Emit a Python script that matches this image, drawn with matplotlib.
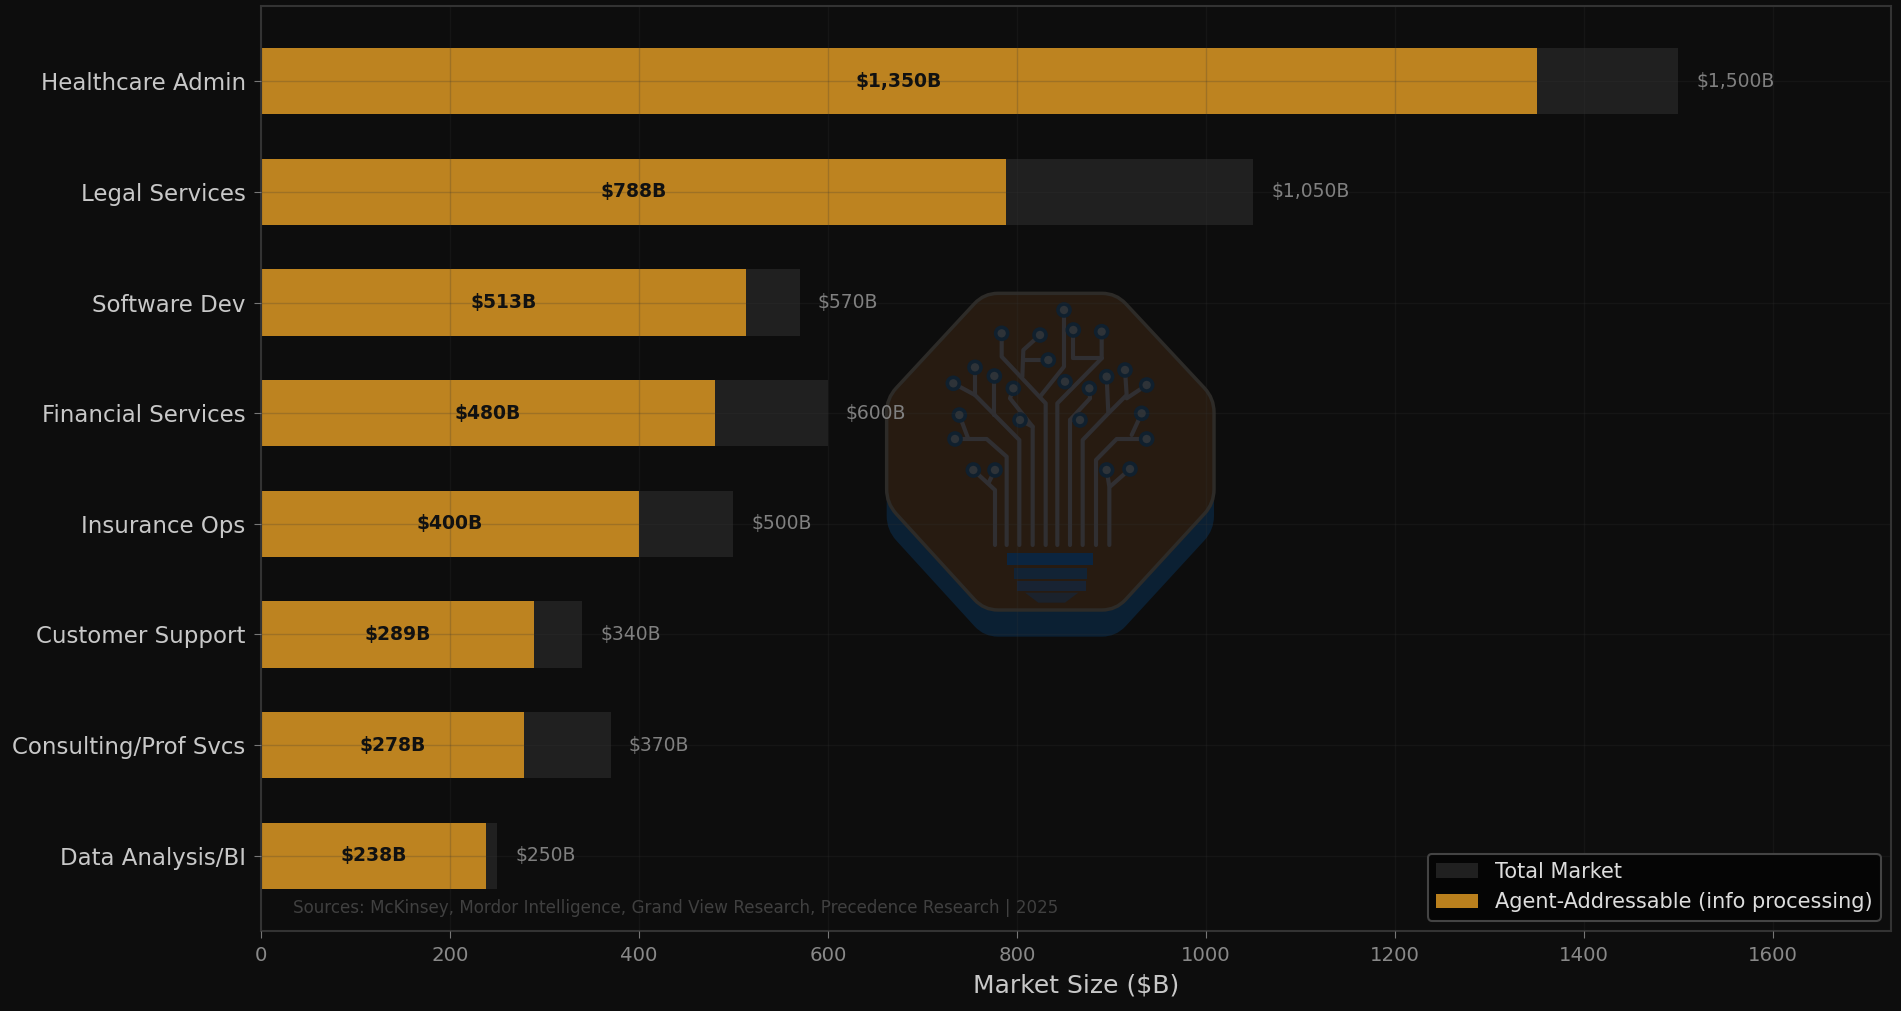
import matplotlib
matplotlib.use("Agg")
import matplotlib.pyplot as plt
from matplotlib.patches import Polygon, Circle, Rectangle, PathPatch
from matplotlib.path import Path

categories = ["Healthcare Admin", "Legal Services", "Software Dev", "Financial Services",
              "Insurance Ops", "Customer Support", "Consulting/Prof Svcs", "Data Analysis/BI"]
total_market = [1500, 1050, 570, 600, 500, 340, 370, 250]
addressable = [1350, 788, 513, 480, 400, 289, 278, 238]
x_ticks = [0, 200, 400, 600, 800, 1000, 1200, 1400, 1600]

BG = "#0d0d0d"
ORANGE = "#cb8c20"

# logo artwork, in its own 1200 x 1140 drawing grid
octagon = [(372, 70), (768, 70), (1062, 385), (1062, 700), (768, 1020), (372, 1020), (80, 700), (80, 385)]
traces = [
    [(405, 825), (405, 660), (340, 600)], [(385, 640), (405, 600)],
    [(440, 825), (440, 560), (380, 507), (285, 507)], [(325, 507), (298, 435)],
    [(478, 825), (478, 510), (345, 375), (280, 340)], [(345, 375), (345, 292)], [(403, 435), (403, 318)],
    [(518, 825), (518, 470), (450, 385), (460, 355)], [(518, 470), (480, 450)],
    [(557, 825), (557, 400), (425, 260), (425, 190)], [(540, 380), (612, 290), (612, 120)],
    [(487, 320), (490, 240), (540, 195)], [(490, 270), (565, 270)],
    [(592, 825), (592, 400), (725, 265), (725, 185)], [(640, 265), (725, 265)], [(640, 265), (640, 180)],
    [(630, 825), (630, 450), (690, 385), (688, 355)], [(630, 450), (660, 450)],
    [(668, 825), (668, 510), (745, 430), (740, 320)], [(745, 430), (800, 375), (795, 300)], [(800, 385), (860, 345)],
    [(708, 825), (708, 570), (770, 507), (860, 507)], [(815, 495), (845, 430)],
    [(748, 825), (748, 650), (740, 600)], [(750, 650), (810, 597)],
]
nodes = [(340, 600), (405, 600), (285, 507), (298, 435), (280, 340), (345, 292), (403, 318),
         (460, 355), (480, 450), (425, 190), (612, 120), (540, 195), (565, 270), (725, 185),
         (640, 180), (615, 335), (688, 355), (660, 450), (740, 320), (795, 300), (860, 345),
         (860, 507), (845, 430), (740, 600), (810, 597)]


def rounded_poly(pts, r, dy=0):
    # polygon path with each corner replaced by a quadratic curve
    verts = []
    codes = []
    n = len(pts)
    for i in range(n):
        px, py = pts[i - 1]
        cx, cy = pts[i]
        nx, ny = pts[(i + 1) % n]
        d1 = ((cx - px) ** 2 + (cy - py) ** 2) ** 0.5
        d2 = ((nx - cx) ** 2 + (ny - cy) ** 2) ** 0.5
        a = (cx + (px - cx) * r / d1, cy + (py - cy) * r / d1 + dy)
        b = (cx + (nx - cx) * r / d2, cy + (ny - cy) * r / d2 + dy)
        verts.append(a)
        codes.append(Path.MOVETO if i == 0 else Path.LINETO)
        verts += [(cx, cy + dy), b]
        codes += [Path.CURVE3, Path.CURVE3]
    verts.append(verts[0])
    codes.append(Path.CLOSEPOLY)
    return Path(verts, codes)


fig = plt.figure(figsize=(19.01, 10.11), dpi=100, facecolor=BG)

# logo sits underneath the transparent chart axes
logo = fig.add_axes([860 / 1901, 1 - 650 / 1011, 400 / 1901, 380 / 1011], zorder=0)
logo.set_xlim(0, 1200)
logo.set_ylim(1140, 0)
logo.axis("off")
logo.add_patch(PathPatch(rounded_poly(octagon, 42, dy=80), fc="#0b2033", ec="none"))
logo.add_patch(PathPatch(rounded_poly(octagon, 42), fc="#271b11", ec="#2d2b28", lw=2.5))
for t in traces:
    xs, ys = zip(*t)
    logo.plot(xs, ys, color="#302f32", lw=3.0, solid_capstyle="round", solid_joinstyle="round")
for n in nodes:
    logo.add_patch(Circle(n, 18, fc="#2e3338", ec="#10202e", lw=2.6, zorder=3))
logo.add_patch(Rectangle((440, 850), 260, 35, fc="#0b2540", ec="none"))
logo.add_patch(Rectangle((462, 893), 218, 34, fc="#122335", ec="none"))
logo.add_patch(Rectangle((470, 934), 208, 28, fc="#182333", ec="none"))
logo.add_patch(Polygon([(495, 968), (655, 968), (615, 998), (535, 998)], closed=True, fc="#1b222c", ec="none"))

ax = fig.add_axes([261 / 1901, 1 - 931 / 1011, 1630 / 1901, 925 / 1011], zorder=1)
ax.patch.set_alpha(0)

y = list(range(len(categories)))
ax.barh(y, total_market, height=0.6, color="#202020", label="Total Market")
ax.barh(y, addressable, height=0.6, color=ORANGE, alpha=0.92, label="Agent-Addressable (info processing)")

for i in y:
    ax.text(addressable[i] / 2, i, "${:,}B".format(addressable[i]), ha="center", va="center",
            fontsize=13.5, fontweight="bold", color="#111111")
    ax.text(total_market[i] + 19, i, "${:,}B".format(total_market[i]), ha="left", va="center",
            fontsize=13.5, color="#808080")

ax.set_yticks(y)
ax.set_yticklabels(categories)
ax.set_xticks(x_ticks)
ax.set_xlim(0, 1725)
ax.set_ylim(7.68, -0.68)
ax.tick_params(axis="y", colors="#777777", labelcolor="#c8c8c8", labelsize=16.5, length=5, pad=6)
ax.tick_params(axis="x", colors="#777777", labelcolor="#888888", labelsize=14.2, length=5, pad=6)
ax.set_xlabel("Market Size ($B)", color="#c8c8c8", fontsize=18, labelpad=6)

ax.set_axisbelow(False)
ax.grid(True, color="#333333", alpha=0.22, lw=1)
for s in ax.spines.values():
    s.set_color("#333333")
    s.set_linewidth(1.5)

ax.text(0.0196, 0.0246, "Sources: McKinsey, Mordor Intelligence, Grand View Research, Precedence Research | 2025",
        transform=ax.transAxes, fontsize=12.1, color="#404040", ha="left", va="center")

leg = ax.legend(loc="lower right", fontsize=15, facecolor="#050505", edgecolor="#444444",
                labelcolor="#dddddd", framealpha=1)
leg.get_frame().set_linewidth(1.5)

fig.savefig("out.png", dpi=100, facecolor=BG)
